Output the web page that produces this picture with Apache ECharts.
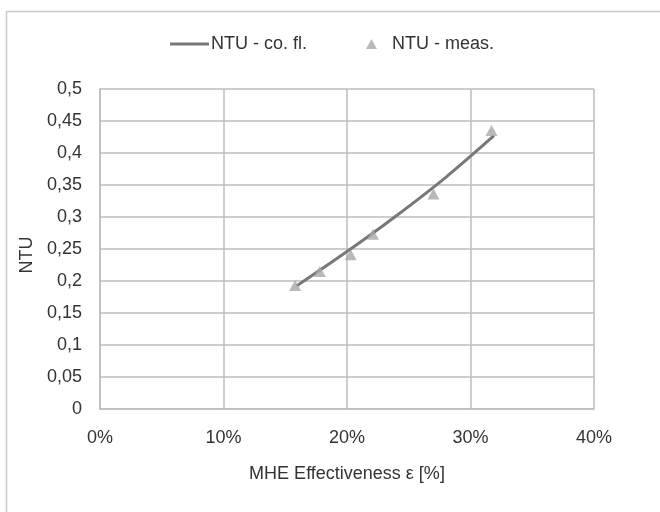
<!DOCTYPE html>
<html>
<head>
<meta charset="utf-8">
<script src="https://cdn.jsdelivr.net/npm/echarts@6/dist/echarts.min.js"></script>
<style>
  html, body { margin: 0; padding: 0; background: #fff; }
  #chart { width: 660px; height: 512px; }
</style>
</head>
<body>
<div id="chart"></div>
<script>
// Effectiveness of the MHE [%] vs NTU
const coFlowEff = [15.9, 20.0, 24.0, 28.0, 31.9];
const coFlowNtu = [0.192, 0.246, 0.302, 0.362, 0.427];

const measEff = [15.8, 17.8, 20.3, 22.1, 27.0, 31.7];
const measNtu = [0.193, 0.215, 0.241, 0.273, 0.336, 0.435];

const xTicks = { min: 0, max: 40, step: 10 };
const yTicks = { min: 0, max: 0.5, step: 0.05 };

const seriesNames = ['NTU - co. fl.', 'NTU - meas.'];

const font = 'Liberation Sans, Arial, sans-serif';
const fontSize = 18;
const textColor = '#333';
const gridColor = '#bdbdbd';

const pair = (xs, ys) => xs.map((x, i) => [x, ys[i]]);

const chart = echarts.init(document.getElementById('chart'), null, { renderer: 'canvas' });
chart.setOption({
  backgroundColor: '#fff',
  animation: false,
  textStyle: { fontFamily: font },
  // chart frame (continues past the right and bottom edges)
  graphic: [{
    type: 'rect',
    left: 4, top: 9,
    shape: { width: 700, height: 600 },
    style: { fill: 'none', stroke: '#c8c8c8', lineWidth: 1.5 },
    silent: true
  }],
  legend: [{
    data: [{ name: seriesNames[0], icon: 'rect' }],
    left: 165, top: 30,
    itemWidth: 39, itemHeight: 3,
    textStyle: { color: textColor, fontSize: fontSize, fontFamily: font, padding: [0, 0, 0, -3] }
  }, {
    data: [{ name: seriesNames[1], icon: 'triangle' }],
    left: 361, top: 30,
    itemWidth: 11, itemHeight: 10,
    textStyle: { color: textColor, fontSize: fontSize, fontFamily: font, padding: [0, 0, 0, 10] }
  }],
  grid: { left: 100, right: 66, top: 89, bottom: 103, containLabel: false },
  xAxis: {
    type: 'value',
    min: xTicks.min, max: xTicks.max, interval: xTicks.step,
    name: 'MHE Effectiveness ε [%]',
    nameLocation: 'middle', nameGap: 56,
    nameTextStyle: { color: textColor, fontSize: fontSize, fontFamily: font },
    axisLine: { show: true, lineStyle: { color: gridColor, width: 1.5 } },
    axisTick: { show: false },
    axisLabel: { color: textColor, fontSize: fontSize, fontFamily: font, margin: 20,
      formatter: v => v + '%' },
    splitLine: { show: true, lineStyle: { color: gridColor, width: 1.5 } }
  },
  yAxis: {
    type: 'value',
    min: yTicks.min, max: yTicks.max, interval: yTicks.step,
    name: 'NTU',
    nameLocation: 'middle', nameGap: 64, nameRotate: 90,
    nameTextStyle: { color: textColor, fontSize: fontSize, fontFamily: font, padding: [0, 0, 0, -12] },
    axisLine: { show: true, lineStyle: { color: gridColor, width: 1.5 } },
    axisTick: { show: false },
    axisLabel: { color: textColor, fontSize: fontSize, fontFamily: font, margin: 18,
      formatter: v => String(parseFloat(v.toFixed(2))).replace('.', ',') },
    splitLine: { show: true, lineStyle: { color: gridColor, width: 1.5 } }
  },
  series: [{
    name: seriesNames[0],
    type: 'line',
    data: pair(coFlowEff, coFlowNtu),
    smooth: 0.3,
    showSymbol: false,
    symbol: 'none',
    color: '#787878',
    lineStyle: { color: '#787878', width: 3 },
    z: 2
  }, {
    name: seriesNames[1],
    type: 'scatter',
    data: pair(measEff, measNtu),
    symbol: 'triangle',
    symbolSize: [12, 11],
    color: '#a8a8a8',
    itemStyle: { color: '#a8a8a8' },
    z: 3
  }]
});
</script>
</body>
</html>
